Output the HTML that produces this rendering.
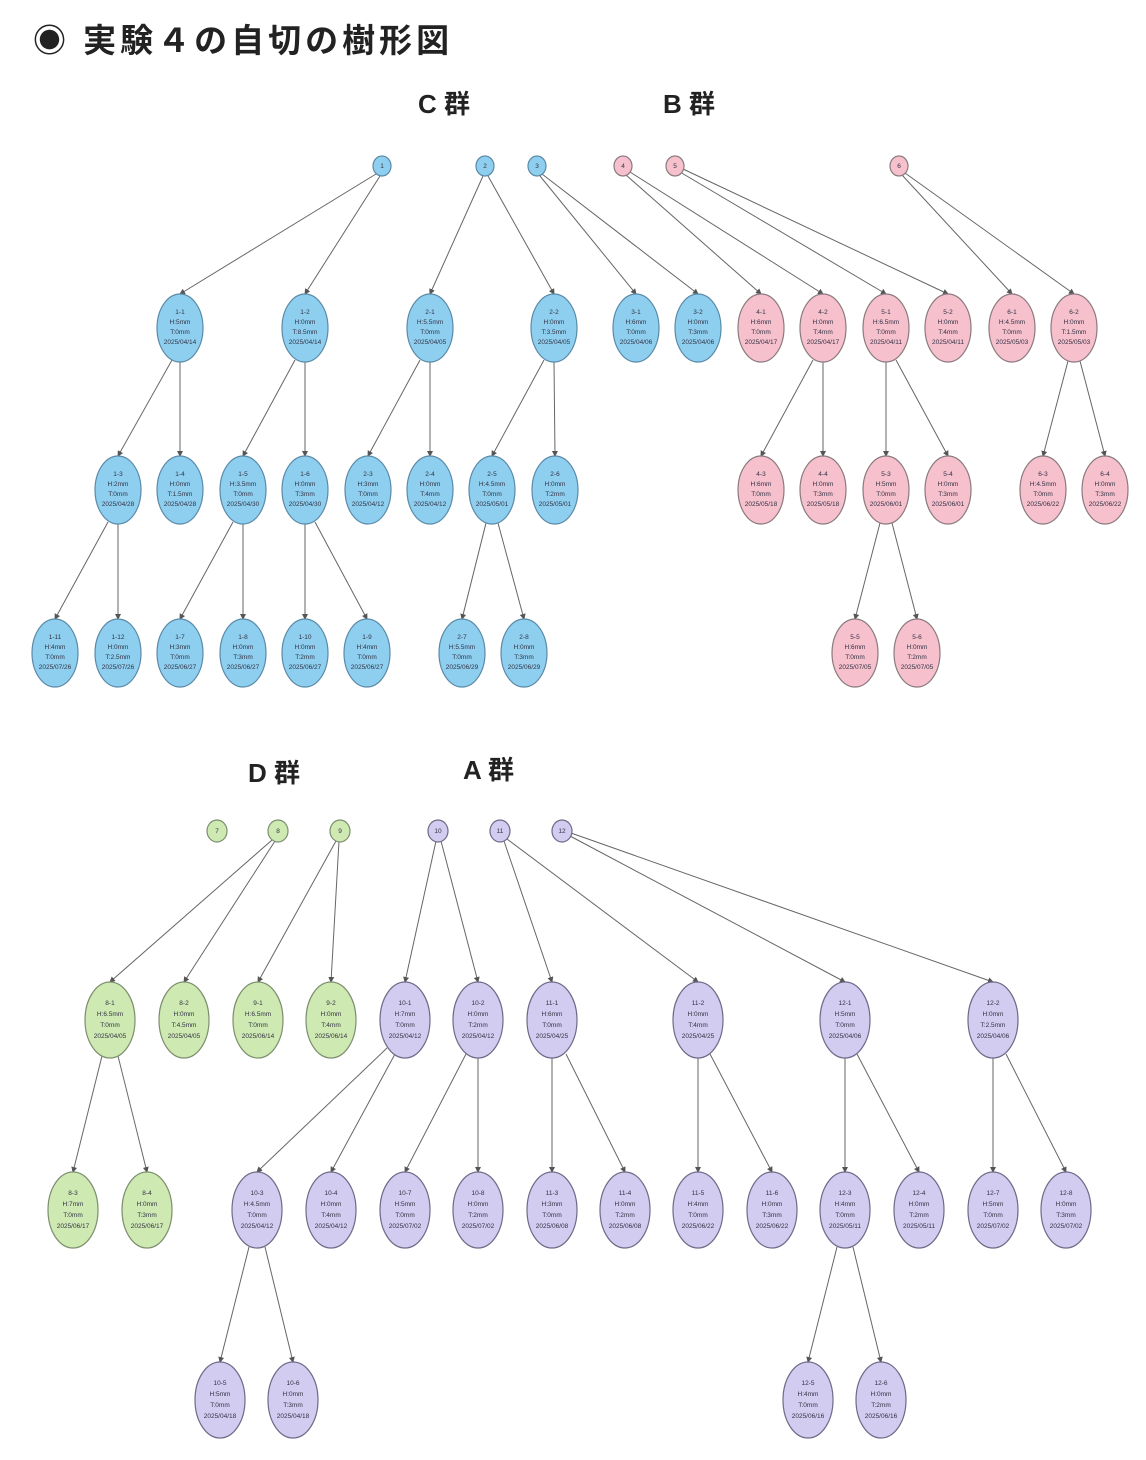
<!DOCTYPE html>
<html><head><meta charset="utf-8"><style>
body{margin:0;background:#fff;width:1146px;height:1460px;overflow:hidden}
svg{display:block}
.t{font-family:"Liberation Sans","Noto Sans CJK JP",sans-serif;font-weight:bold;fill:#222}
.n text{font-family:"Liberation Sans",sans-serif;font-size:6.5px;fill:#334;text-anchor:middle}
line{stroke:#666;stroke-width:1;marker-end:url(#a)}
.b ellipse{fill:#8ecff0;stroke:#5b8aa8;stroke-width:1.2}
.p ellipse{fill:#f6c0cd;stroke:#8a7a80;stroke-width:1.2}
.g ellipse{fill:#cfe9b3;stroke:#7d8f6e;stroke-width:1.2}
.v ellipse{fill:#d2ccf0;stroke:#6f6a88;stroke-width:1.2}
</style></head><body>
<svg width="1146" height="1460" xmlns="http://www.w3.org/2000/svg">
<defs><marker id="a" markerWidth="6" markerHeight="6" refX="5" refY="3" orient="auto"><path d="M0,0 L6,3 L0,6z" fill="#555"/></marker></defs>
<text class="t" x="33" y="52" font-size="33" letter-spacing="4">◉ 実験４の自切の樹形図</text>
<text class="t" x="418" y="113" font-size="26">C 群</text>
<text class="t" x="663" y="113" font-size="26">B 群</text>
<text class="t" x="248" y="782" font-size="26">D 群</text>
<text class="t" x="463" y="779" font-size="26">A 群</text>

<line x1="376" y1="174" x2="180" y2="294"/><line x1="380" y1="176" x2="305" y2="294"/>
<line x1="483" y1="176" x2="430" y2="294"/><line x1="488" y1="176" x2="554" y2="294"/>
<line x1="540" y1="176" x2="636" y2="294"/><line x1="542" y1="174" x2="698" y2="294"/>
<line x1="626" y1="175" x2="761" y2="294"/><line x1="630" y1="172" x2="823" y2="294"/>
<line x1="680" y1="172" x2="886" y2="294"/><line x1="683" y1="169" x2="948" y2="294"/>
<line x1="902" y1="175" x2="1012" y2="294"/><line x1="905" y1="173" x2="1074" y2="294"/>
<line x1="172" y1="360" x2="118" y2="456"/><line x1="180" y1="362" x2="180" y2="456"/>
<line x1="295" y1="360" x2="243" y2="456"/><line x1="305" y1="362" x2="305" y2="456"/>
<line x1="420" y1="360" x2="368" y2="456"/><line x1="430" y1="362" x2="430" y2="456"/>
<line x1="544" y1="360" x2="492" y2="456"/><line x1="554" y1="362" x2="555" y2="456"/>
<line x1="813" y1="360" x2="761" y2="456"/><line x1="823" y1="362" x2="823" y2="456"/>
<line x1="886" y1="362" x2="886" y2="456"/><line x1="896" y1="360" x2="948" y2="456"/>
<line x1="1068" y1="361" x2="1043" y2="456"/><line x1="1080" y1="361" x2="1105" y2="456"/>
<line x1="108" y1="522" x2="55" y2="619"/><line x1="118" y1="524" x2="118" y2="619"/>
<line x1="233" y1="522" x2="180" y2="619"/><line x1="243" y1="524" x2="243" y2="619"/>
<line x1="305" y1="524" x2="305" y2="619"/><line x1="315" y1="522" x2="367" y2="619"/>
<line x1="486" y1="523" x2="462" y2="619"/><line x1="498" y1="523" x2="524" y2="619"/>
<line x1="880" y1="523" x2="855" y2="619"/><line x1="892" y1="523" x2="917" y2="619"/>

<line x1="272" y1="840" x2="110" y2="982"/><line x1="275" y1="841" x2="184" y2="982"/>
<line x1="336" y1="841" x2="258" y2="982"/><line x1="339" y1="841" x2="331" y2="982"/>
<line x1="436" y1="841" x2="405" y2="982"/><line x1="441" y1="841" x2="478" y2="982"/>
<line x1="504" y1="841" x2="552" y2="982"/><line x1="507" y1="839" x2="698" y2="982"/>
<line x1="570" y1="836" x2="845" y2="982"/><line x1="571" y1="833" x2="993" y2="982"/>
<line x1="102" y1="1056" x2="73" y2="1172"/><line x1="118" y1="1056" x2="147" y2="1172"/>
<line x1="387" y1="1048" x2="257" y2="1172"/><line x1="395" y1="1054" x2="331" y2="1172"/>
<line x1="466" y1="1054" x2="405" y2="1172"/><line x1="478" y1="1058" x2="478" y2="1172"/>
<line x1="552" y1="1058" x2="552" y2="1172"/><line x1="566" y1="1054" x2="625" y2="1172"/>
<line x1="698" y1="1058" x2="698" y2="1172"/><line x1="710" y1="1054" x2="772" y2="1172"/>
<line x1="845" y1="1058" x2="845" y2="1172"/><line x1="857" y1="1054" x2="919" y2="1172"/>
<line x1="993" y1="1058" x2="993" y2="1172"/><line x1="1006" y1="1054" x2="1066" y2="1172"/>
<line x1="249" y1="1247" x2="220" y2="1362"/><line x1="265" y1="1247" x2="293" y2="1362"/>
<line x1="837" y1="1247" x2="808" y2="1362"/><line x1="853" y1="1247" x2="881" y2="1362"/>

<g class="n b"><ellipse cx="382" cy="166" rx="9" ry="10"/><text x="382" y="168">1</text>
<ellipse cx="485" cy="166" rx="9" ry="10"/><text x="485" y="168">2</text>
<ellipse cx="537" cy="166" rx="9" ry="10"/><text x="537" y="168">3</text></g>
<g class="n p"><ellipse cx="623" cy="166" rx="9" ry="10"/><text x="623" y="168">4</text>
<ellipse cx="675" cy="166" rx="9" ry="10"/><text x="675" y="168">5</text>
<ellipse cx="899" cy="166" rx="9" ry="10"/><text x="899" y="168">6</text></g>
<g class="n g"><ellipse cx="217" cy="831" rx="10" ry="11"/><text x="217" y="833">7</text>
<ellipse cx="278" cy="831" rx="10" ry="11"/><text x="278" y="833">8</text>
<ellipse cx="340" cy="831" rx="10" ry="11"/><text x="340" y="833">9</text></g>
<g class="n v"><ellipse cx="438" cy="831" rx="10" ry="11"/><text x="438" y="833">10</text>
<ellipse cx="500" cy="831" rx="10" ry="11"/><text x="500" y="833">11</text>
<ellipse cx="562" cy="831" rx="10" ry="11"/><text x="562" y="833">12</text></g>

<g class="n b">
<ellipse cx="180" cy="328" rx="23" ry="34"/><text x="180" y="314">1-1</text><text x="180" y="324">H:5mm</text><text x="180" y="334">T:0mm</text><text x="180" y="344">2025/04/14</text>
<ellipse cx="305" cy="328" rx="23" ry="34"/><text x="305" y="314">1-2</text><text x="305" y="324">H:0mm</text><text x="305" y="334">T:8.5mm</text><text x="305" y="344">2025/04/14</text>
<ellipse cx="430" cy="328" rx="23" ry="34"/><text x="430" y="314">2-1</text><text x="430" y="324">H:5.5mm</text><text x="430" y="334">T:0mm</text><text x="430" y="344">2025/04/05</text>
<ellipse cx="554" cy="328" rx="23" ry="34"/><text x="554" y="314">2-2</text><text x="554" y="324">H:0mm</text><text x="554" y="334">T:3.5mm</text><text x="554" y="344">2025/04/05</text>
<ellipse cx="636" cy="328" rx="23" ry="34"/><text x="636" y="314">3-1</text><text x="636" y="324">H:6mm</text><text x="636" y="334">T:0mm</text><text x="636" y="344">2025/04/06</text>
<ellipse cx="698" cy="328" rx="23" ry="34"/><text x="698" y="314">3-2</text><text x="698" y="324">H:0mm</text><text x="698" y="334">T:3mm</text><text x="698" y="344">2025/04/06</text>
<ellipse cx="118" cy="490" rx="23" ry="34"/><text x="118" y="476">1-3</text><text x="118" y="486">H:2mm</text><text x="118" y="496">T:0mm</text><text x="118" y="506">2025/04/28</text>
<ellipse cx="180" cy="490" rx="23" ry="34"/><text x="180" y="476">1-4</text><text x="180" y="486">H:0mm</text><text x="180" y="496">T:1.5mm</text><text x="180" y="506">2025/04/28</text>
<ellipse cx="243" cy="490" rx="23" ry="34"/><text x="243" y="476">1-5</text><text x="243" y="486">H:3.5mm</text><text x="243" y="496">T:0mm</text><text x="243" y="506">2025/04/30</text>
<ellipse cx="305" cy="490" rx="23" ry="34"/><text x="305" y="476">1-6</text><text x="305" y="486">H:0mm</text><text x="305" y="496">T:3mm</text><text x="305" y="506">2025/04/30</text>
<ellipse cx="368" cy="490" rx="23" ry="34"/><text x="368" y="476">2-3</text><text x="368" y="486">H:3mm</text><text x="368" y="496">T:0mm</text><text x="368" y="506">2025/04/12</text>
<ellipse cx="430" cy="490" rx="23" ry="34"/><text x="430" y="476">2-4</text><text x="430" y="486">H:0mm</text><text x="430" y="496">T:4mm</text><text x="430" y="506">2025/04/12</text>
<ellipse cx="492" cy="490" rx="23" ry="34"/><text x="492" y="476">2-5</text><text x="492" y="486">H:4.5mm</text><text x="492" y="496">T:0mm</text><text x="492" y="506">2025/05/01</text>
<ellipse cx="555" cy="490" rx="23" ry="34"/><text x="555" y="476">2-6</text><text x="555" y="486">H:0mm</text><text x="555" y="496">T:2mm</text><text x="555" y="506">2025/05/01</text>
<ellipse cx="55" cy="653" rx="23" ry="34"/><text x="55" y="639">1-11</text><text x="55" y="649">H:4mm</text><text x="55" y="659">T:0mm</text><text x="55" y="669">2025/07/26</text>
<ellipse cx="118" cy="653" rx="23" ry="34"/><text x="118" y="639">1-12</text><text x="118" y="649">H:0mm</text><text x="118" y="659">T:2.5mm</text><text x="118" y="669">2025/07/26</text>
<ellipse cx="180" cy="653" rx="23" ry="34"/><text x="180" y="639">1-7</text><text x="180" y="649">H:3mm</text><text x="180" y="659">T:0mm</text><text x="180" y="669">2025/06/27</text>
<ellipse cx="243" cy="653" rx="23" ry="34"/><text x="243" y="639">1-8</text><text x="243" y="649">H:0mm</text><text x="243" y="659">T:3mm</text><text x="243" y="669">2025/06/27</text>
<ellipse cx="305" cy="653" rx="23" ry="34"/><text x="305" y="639">1-10</text><text x="305" y="649">H:0mm</text><text x="305" y="659">T:2mm</text><text x="305" y="669">2025/06/27</text>
<ellipse cx="367" cy="653" rx="23" ry="34"/><text x="367" y="639">1-9</text><text x="367" y="649">H:4mm</text><text x="367" y="659">T:0mm</text><text x="367" y="669">2025/06/27</text>
<ellipse cx="462" cy="653" rx="23" ry="34"/><text x="462" y="639">2-7</text><text x="462" y="649">H:5.5mm</text><text x="462" y="659">T:0mm</text><text x="462" y="669">2025/06/29</text>
<ellipse cx="524" cy="653" rx="23" ry="34"/><text x="524" y="639">2-8</text><text x="524" y="649">H:0mm</text><text x="524" y="659">T:3mm</text><text x="524" y="669">2025/06/29</text>
</g>

<g class="n p">
<ellipse cx="761" cy="328" rx="23" ry="34"/><text x="761" y="314">4-1</text><text x="761" y="324">H:6mm</text><text x="761" y="334">T:0mm</text><text x="761" y="344">2025/04/17</text>
<ellipse cx="823" cy="328" rx="23" ry="34"/><text x="823" y="314">4-2</text><text x="823" y="324">H:0mm</text><text x="823" y="334">T:4mm</text><text x="823" y="344">2025/04/17</text>
<ellipse cx="886" cy="328" rx="23" ry="34"/><text x="886" y="314">5-1</text><text x="886" y="324">H:6.5mm</text><text x="886" y="334">T:0mm</text><text x="886" y="344">2025/04/11</text>
<ellipse cx="948" cy="328" rx="23" ry="34"/><text x="948" y="314">5-2</text><text x="948" y="324">H:0mm</text><text x="948" y="334">T:4mm</text><text x="948" y="344">2025/04/11</text>
<ellipse cx="1012" cy="328" rx="23" ry="34"/><text x="1012" y="314">6-1</text><text x="1012" y="324">H:4.5mm</text><text x="1012" y="334">T:0mm</text><text x="1012" y="344">2025/05/03</text>
<ellipse cx="1074" cy="328" rx="23" ry="34"/><text x="1074" y="314">6-2</text><text x="1074" y="324">H:0mm</text><text x="1074" y="334">T:1.5mm</text><text x="1074" y="344">2025/05/03</text>
<ellipse cx="761" cy="490" rx="23" ry="34"/><text x="761" y="476">4-3</text><text x="761" y="486">H:6mm</text><text x="761" y="496">T:0mm</text><text x="761" y="506">2025/05/18</text>
<ellipse cx="823" cy="490" rx="23" ry="34"/><text x="823" y="476">4-4</text><text x="823" y="486">H:0mm</text><text x="823" y="496">T:3mm</text><text x="823" y="506">2025/05/18</text>
<ellipse cx="886" cy="490" rx="23" ry="34"/><text x="886" y="476">5-3</text><text x="886" y="486">H:5mm</text><text x="886" y="496">T:0mm</text><text x="886" y="506">2025/06/01</text>
<ellipse cx="948" cy="490" rx="23" ry="34"/><text x="948" y="476">5-4</text><text x="948" y="486">H:0mm</text><text x="948" y="496">T:3mm</text><text x="948" y="506">2025/06/01</text>
<ellipse cx="1043" cy="490" rx="23" ry="34"/><text x="1043" y="476">6-3</text><text x="1043" y="486">H:4.5mm</text><text x="1043" y="496">T:0mm</text><text x="1043" y="506">2025/06/22</text>
<ellipse cx="1105" cy="490" rx="23" ry="34"/><text x="1105" y="476">6-4</text><text x="1105" y="486">H:0mm</text><text x="1105" y="496">T:3mm</text><text x="1105" y="506">2025/06/22</text>
<ellipse cx="855" cy="653" rx="23" ry="34"/><text x="855" y="639">5-5</text><text x="855" y="649">H:6mm</text><text x="855" y="659">T:0mm</text><text x="855" y="669">2025/07/05</text>
<ellipse cx="917" cy="653" rx="23" ry="34"/><text x="917" y="639">5-6</text><text x="917" y="649">H:0mm</text><text x="917" y="659">T:2mm</text><text x="917" y="669">2025/07/05</text>
</g>

<g class="n g">
<ellipse cx="110" cy="1020" rx="25" ry="38"/><text x="110" y="1005">8-1</text><text x="110" y="1016">H:6.5mm</text><text x="110" y="1027">T:0mm</text><text x="110" y="1038">2025/04/05</text>
<ellipse cx="184" cy="1020" rx="25" ry="38"/><text x="184" y="1005">8-2</text><text x="184" y="1016">H:0mm</text><text x="184" y="1027">T:4.5mm</text><text x="184" y="1038">2025/04/05</text>
<ellipse cx="258" cy="1020" rx="25" ry="38"/><text x="258" y="1005">9-1</text><text x="258" y="1016">H:6.5mm</text><text x="258" y="1027">T:0mm</text><text x="258" y="1038">2025/06/14</text>
<ellipse cx="331" cy="1020" rx="25" ry="38"/><text x="331" y="1005">9-2</text><text x="331" y="1016">H:0mm</text><text x="331" y="1027">T:4mm</text><text x="331" y="1038">2025/06/14</text>
<ellipse cx="73" cy="1210" rx="25" ry="38"/><text x="73" y="1195">8-3</text><text x="73" y="1206">H:7mm</text><text x="73" y="1217">T:0mm</text><text x="73" y="1228">2025/06/17</text>
<ellipse cx="147" cy="1210" rx="25" ry="38"/><text x="147" y="1195">8-4</text><text x="147" y="1206">H:0mm</text><text x="147" y="1217">T:3mm</text><text x="147" y="1228">2025/06/17</text>
</g>

<g class="n v">
<ellipse cx="405" cy="1020" rx="25" ry="38"/><text x="405" y="1005">10-1</text><text x="405" y="1016">H:7mm</text><text x="405" y="1027">T:0mm</text><text x="405" y="1038">2025/04/12</text>
<ellipse cx="478" cy="1020" rx="25" ry="38"/><text x="478" y="1005">10-2</text><text x="478" y="1016">H:0mm</text><text x="478" y="1027">T:2mm</text><text x="478" y="1038">2025/04/12</text>
<ellipse cx="552" cy="1020" rx="25" ry="38"/><text x="552" y="1005">11-1</text><text x="552" y="1016">H:6mm</text><text x="552" y="1027">T:0mm</text><text x="552" y="1038">2025/04/25</text>
<ellipse cx="698" cy="1020" rx="25" ry="38"/><text x="698" y="1005">11-2</text><text x="698" y="1016">H:0mm</text><text x="698" y="1027">T:4mm</text><text x="698" y="1038">2025/04/25</text>
<ellipse cx="845" cy="1020" rx="25" ry="38"/><text x="845" y="1005">12-1</text><text x="845" y="1016">H:5mm</text><text x="845" y="1027">T:0mm</text><text x="845" y="1038">2025/04/06</text>
<ellipse cx="993" cy="1020" rx="25" ry="38"/><text x="993" y="1005">12-2</text><text x="993" y="1016">H:0mm</text><text x="993" y="1027">T:2.5mm</text><text x="993" y="1038">2025/04/06</text>
<ellipse cx="257" cy="1210" rx="25" ry="38"/><text x="257" y="1195">10-3</text><text x="257" y="1206">H:4.5mm</text><text x="257" y="1217">T:0mm</text><text x="257" y="1228">2025/04/12</text>
<ellipse cx="331" cy="1210" rx="25" ry="38"/><text x="331" y="1195">10-4</text><text x="331" y="1206">H:0mm</text><text x="331" y="1217">T:4mm</text><text x="331" y="1228">2025/04/12</text>
<ellipse cx="405" cy="1210" rx="25" ry="38"/><text x="405" y="1195">10-7</text><text x="405" y="1206">H:5mm</text><text x="405" y="1217">T:0mm</text><text x="405" y="1228">2025/07/02</text>
<ellipse cx="478" cy="1210" rx="25" ry="38"/><text x="478" y="1195">10-8</text><text x="478" y="1206">H:0mm</text><text x="478" y="1217">T:2mm</text><text x="478" y="1228">2025/07/02</text>
<ellipse cx="552" cy="1210" rx="25" ry="38"/><text x="552" y="1195">11-3</text><text x="552" y="1206">H:3mm</text><text x="552" y="1217">T:0mm</text><text x="552" y="1228">2025/06/08</text>
<ellipse cx="625" cy="1210" rx="25" ry="38"/><text x="625" y="1195">11-4</text><text x="625" y="1206">H:0mm</text><text x="625" y="1217">T:2mm</text><text x="625" y="1228">2025/06/08</text>
<ellipse cx="698" cy="1210" rx="25" ry="38"/><text x="698" y="1195">11-5</text><text x="698" y="1206">H:4mm</text><text x="698" y="1217">T:0mm</text><text x="698" y="1228">2025/06/22</text>
<ellipse cx="772" cy="1210" rx="25" ry="38"/><text x="772" y="1195">11-6</text><text x="772" y="1206">H:0mm</text><text x="772" y="1217">T:3mm</text><text x="772" y="1228">2025/06/22</text>
<ellipse cx="845" cy="1210" rx="25" ry="38"/><text x="845" y="1195">12-3</text><text x="845" y="1206">H:4mm</text><text x="845" y="1217">T:0mm</text><text x="845" y="1228">2025/05/11</text>
<ellipse cx="919" cy="1210" rx="25" ry="38"/><text x="919" y="1195">12-4</text><text x="919" y="1206">H:0mm</text><text x="919" y="1217">T:2mm</text><text x="919" y="1228">2025/05/11</text>
<ellipse cx="993" cy="1210" rx="25" ry="38"/><text x="993" y="1195">12-7</text><text x="993" y="1206">H:5mm</text><text x="993" y="1217">T:0mm</text><text x="993" y="1228">2025/07/02</text>
<ellipse cx="1066" cy="1210" rx="25" ry="38"/><text x="1066" y="1195">12-8</text><text x="1066" y="1206">H:0mm</text><text x="1066" y="1217">T:3mm</text><text x="1066" y="1228">2025/07/02</text>
<ellipse cx="220" cy="1400" rx="25" ry="38"/><text x="220" y="1385">10-5</text><text x="220" y="1396">H:5mm</text><text x="220" y="1407">T:0mm</text><text x="220" y="1418">2025/04/18</text>
<ellipse cx="293" cy="1400" rx="25" ry="38"/><text x="293" y="1385">10-6</text><text x="293" y="1396">H:0mm</text><text x="293" y="1407">T:3mm</text><text x="293" y="1418">2025/04/18</text>
<ellipse cx="808" cy="1400" rx="25" ry="38"/><text x="808" y="1385">12-5</text><text x="808" y="1396">H:4mm</text><text x="808" y="1407">T:0mm</text><text x="808" y="1418">2025/06/16</text>
<ellipse cx="881" cy="1400" rx="25" ry="38"/><text x="881" y="1385">12-6</text><text x="881" y="1396">H:0mm</text><text x="881" y="1407">T:2mm</text><text x="881" y="1418">2025/06/16</text>
</g>
</svg>
</body></html>
